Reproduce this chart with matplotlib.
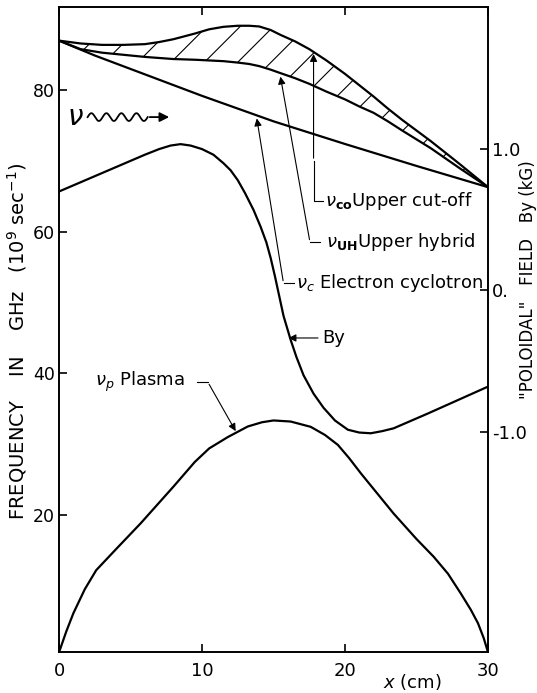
import matplotlib
matplotlib.use("Agg")
import matplotlib.pyplot as plt
import numpy as np

plt.rcParams['font.family'] = ['DejaVu Sans']
plt.rcParams['hatch.linewidth'] = 0.8

# Upper cut-off and upper hybrid share one x grid (cm) -> GHz
x_top = [0, 1.5, 3, 4.5, 6, 7, 8, 9.5, 10.5, 11.5, 12.5, 13.3, 14, 14.8, 15.5,
         16.5, 17.5, 18.7, 20, 21, 22, 23, 24, 26, 28, 30]
nu_co = [87.0, 86.6, 86.4, 86.4, 86.5, 86.8, 87.2, 88.0, 88.6, 88.95, 89.1, 89.1,
         89.0, 88.5, 87.8, 86.9, 85.8, 84.2, 82.3, 80.7, 79.1, 77.4, 75.8, 72.8,
         69.6, 66.3]
nu_uh = [87.0, 85.8, 85.3, 85.0, 84.7, 84.55, 84.4, 84.3, 84.2, 84.1, 83.9, 83.7,
         83.4, 82.9, 82.4, 81.7, 80.9, 79.8, 78.7, 77.7, 76.8, 75.6, 74.3, 71.8,
         69.0, 66.3]

# Electron cyclotron (GHz)
x_c = [0, 2.5, 5, 10, 15, 20, 25, 30]
nu_c = [87.0, 84.9, 83.0, 79.2, 75.6, 72.4, 69.3, 66.3]

# Plasma frequency (GHz)
x_p = [0, 0.5, 1.0, 1.8, 2.6, 3.3, 4.0, 5.7, 8.0, 9.5, 10.5, 11.8, 13.2, 14.2,
       15.0, 16.2, 17.6, 18.6, 19.5, 20.3, 21.1, 23.4, 25.0, 26.2, 27.2, 28.1,
       28.8, 29.3, 29.7, 30]
nu_p = [0.6, 3.5, 6.1, 9.5, 12.2, 13.7, 15.2, 18.8, 24.0, 27.5, 29.4, 31.0, 32.5,
        33.1, 33.35, 33.2, 32.45, 31.3, 29.9, 28.0, 25.9, 20.2, 16.6, 14.1, 11.7,
        8.9, 6.6, 4.7, 2.6, 0.6]

# Poloidal field By (kG)
x_b = [0, 3, 6, 7, 7.8, 8.5, 9.2, 10.0, 10.8, 11.5, 12.0, 12.5, 13.0, 13.6, 14.1,
       14.5, 14.8, 15.1, 15.4, 15.7, 16.2, 16.6, 17.1, 17.8, 18.5, 19.3, 20.2,
       21.0, 21.8, 22.6, 23.4, 25.8, 30]
by = [0.70, 0.83, 0.96, 1.0, 1.025, 1.035, 1.025, 1.0, 0.96, 0.90, 0.85, 0.78,
      0.69, 0.57, 0.45, 0.34, 0.23, 0.10, -0.04, -0.18, -0.35, -0.47, -0.60,
      -0.73, -0.83, -0.92, -0.985, -1.005, -1.01, -0.995, -0.975, -0.87, -0.68]

fig = plt.figure(figsize=(5.37, 6.93), dpi=100)
ax = fig.add_axes([0.1099, 0.0592, 0.7989, 0.9307])
ax2 = ax.twinx()

lw = 1.6
ax.fill_between(x_top, nu_uh, nu_co, facecolor='none', edgecolor='black',
                hatch='/', linewidth=0)
ax.plot(x_top, nu_co, color='black', lw=lw)
ax.plot(x_top, nu_uh, color='black', lw=lw)
ax.plot(x_c, nu_c, color='black', lw=lw)
ax.plot(x_p, nu_p, color='black', lw=lw)
ax2.plot(x_b, by, color='black', lw=lw)

ax.set_xlim(0, 30)
ax.set_ylim(0.65, 91.75)
ax2.set_ylim(-2.557, 2.005)

ax.set_xticks([0, 10, 20, 30])
ax.set_yticks([20, 40, 60, 80])
ax2.set_yticks([-1, 0, 1])
ax2.set_yticklabels(['-1.0', '0.', '1.0'])

ax.tick_params(direction='in', length=6, width=1.2, labelsize=12.5, pad=3,
               top=True, labeltop=False)
ax.tick_params(axis='x', pad=7, labelsize=13)
ax2.tick_params(direction='in', length=6, width=1.2, labelsize=13, pad=3)
for a in (ax, ax2):
    for s in a.spines.values():
        s.set_linewidth(1.2)

# incoming wave symbol
ax.text(0.55, 76.2, r'$\nu$', fontsize=20, va='center', ha='left')
wx = np.linspace(2.0, 6.2, 200)
ax.plot(wx, 76.2 + 0.55 * np.sin(2 * np.pi * (wx - 2.0) / 1.05), color='black', lw=1.3)
ax.annotate('', xy=(7.9, 76.2), xytext=(6.15, 76.2),
            arrowprops=dict(arrowstyle='-|>', lw=1.3, color='black', mutation_scale=14))

arr = dict(arrowstyle='-|>', lw=0.8, color='black', mutation_scale=11)
fs = 13

# upper cut-off
ax.plot([17.8, 17.8, 18.45], [70.0, 64.3, 64.3], color='black', lw=0.8)
ax.annotate('', xy=(17.8, 85.5), xytext=(17.8, 70.0), arrowprops=arr)
ax.text(18.6, 64.3, r'$\nu_{\mathbf{co}}$Upper cut-off', fontsize=fs, va='center')

# upper hybrid
ax.plot([17.55, 18.25], [58.5, 58.5], color='black', lw=0.8)
ax.annotate('', xy=(15.45, 82.3), xytext=(17.55, 58.5), arrowprops=arr)
ax.text(18.7, 58.5, r'$\nu_{\mathbf{UH}}$Upper hybrid', fontsize=fs, va='center')

# electron cyclotron
ax.plot([15.7, 16.4], [52.7, 52.7], color='black', lw=0.8)
ax.annotate('', xy=(13.8, 76.4), xytext=(15.7, 52.7), arrowprops=arr)
ax.text(16.6, 52.7, r'$\nu_c$ Electron cyclotron', fontsize=fs, va='center')

# By
ax.annotate('By', xy=(16.05, 45.0), xytext=(18.4, 45.0), fontsize=fs, va='center',
            arrowprops=dict(arrowstyle='-|>', lw=0.8, color='black',
                            mutation_scale=11, shrinkA=1, shrinkB=0))

# plasma
ax.text(2.5, 38.8, r'$\nu_p$ Plasma', fontsize=fs, va='center')
ax.plot([9.65, 10.4], [38.8, 38.8], color='black', lw=0.8)
ax.annotate('', xy=(12.45, 31.5), xytext=(10.4, 38.8), arrowprops=arr)

fig.text(0.031, 0.507, r'FREQUENCY    IN    GHz   $(10^9$ sec$^{-1})$', rotation=90,
         fontsize=14, ha='center', va='center')
fig.text(0.983, 0.596, '"POLOIDAL"   FIELD   By (kG)', rotation=90,
         fontsize=12, ha='center', va='center')
fig.text(0.767, 0.002, r'$x$ (cm)', fontsize=13, ha='center', va='bottom')

fig.savefig('out.png', dpi=100)
